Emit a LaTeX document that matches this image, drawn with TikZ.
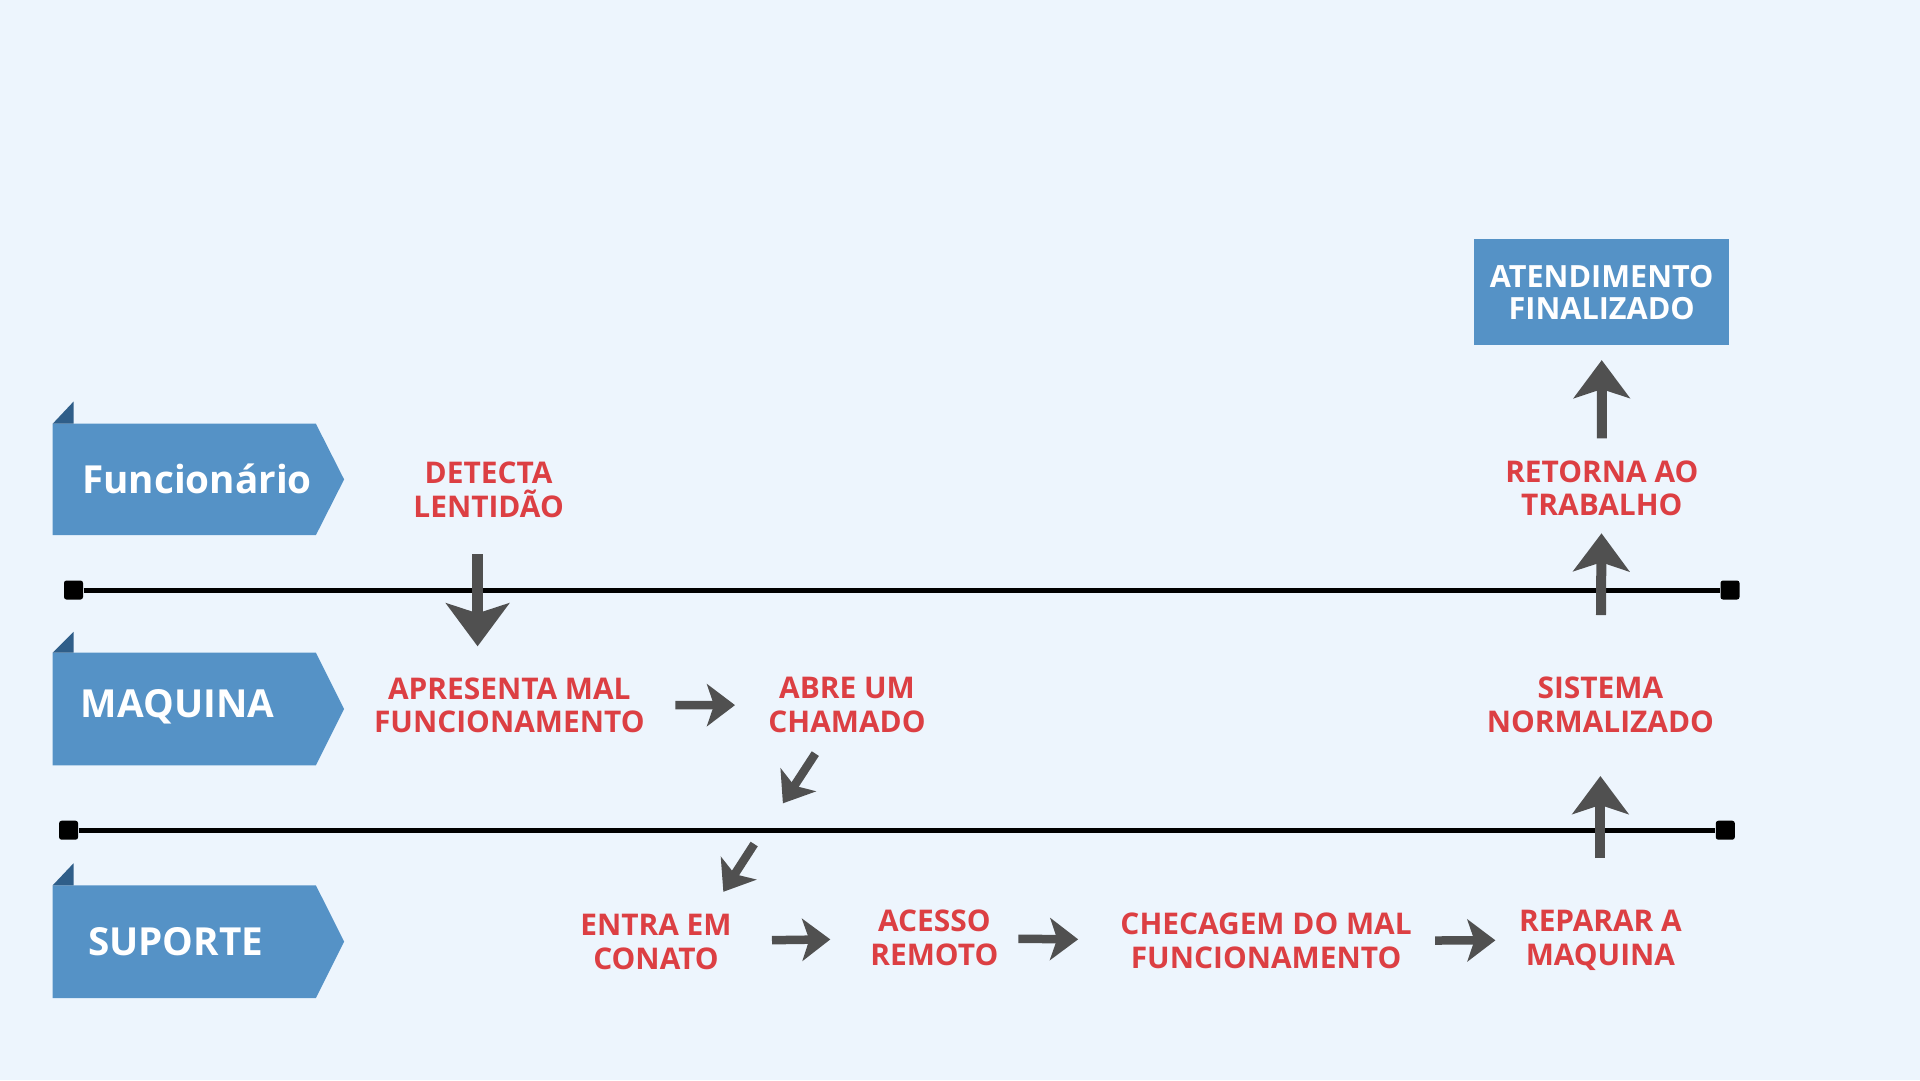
\documentclass[tikz,border=0pt]{standalone}
\usepackage{fontspec}
\setmainfont{Open Sans}
\usetikzlibrary{arrows.meta}

\definecolor{fundo}{HTML}{EDF5FD}
\definecolor{azul}{HTML}{5592C6}
\definecolor{azulesc}{HTML}{2F5E89}
\definecolor{vermelho}{HTML}{DC3F43}
\definecolor{cinza}{HTML}{505050}

\begin{document}
\begin{tikzpicture}[x=0.1mm,y=-0.1mm]
  \tikzset{
    etapa/.style={text=vermelho,font=\fontsize{8.5}{9.6}\selectfont\bfseries,align=center,inner sep=0pt},
    raia/.style={text=white,font=\fontsize{11}{12}\selectfont\bfseries,inner sep=0pt,anchor=base},
    caixa/.style={fill=azul,text=white,font=\fontsize{8.7}{9.1}\selectfont\bfseries,align=center,minimum width=25.5mm,minimum height=10.65mm,inner sep=0pt},
    marca/.style={fill=black,rounded corners=0.25mm,minimum size=1.9mm,inner sep=0pt},
    trilho/.style={line width=0.5mm},
    seta/.style={cinza,line width=0.85mm,-{Stealth[length=2.8mm,width=4.2mm,inset=0.7mm]}},
    setam/.style={seta,line width=1mm,-{Stealth[length=3.8mm,width=5.6mm,inset=0.9mm]}},
    setag/.style={seta,line width=1.15mm,-{Stealth[length=4.3mm,width=6.3mm,inset=1mm]}},
  }
  \useasboundingbox (0,0) rectangle (1920,1080);
  \fill[fundo] (0,0) rectangle (1920,1080);

  % raias
  \fill[azul] (52.7,423.7) -- (315.9,423.7) -- (344.1,479.4) -- (315.9,535.1) -- (52.7,535.1) -- cycle;
  \fill[azulesc] (52.7,423.7) -- (73.5,401.6) -- (73.5,423.7) -- cycle;
  \fill[azul] (52.7,652.7) -- (315.9,652.7) -- (344.1,709) -- (315.9,765.3) -- (52.7,765.3) -- cycle;
  \fill[azulesc] (52.7,652.7) -- (73.5,631.8) -- (73.5,652.7) -- cycle;
  \fill[azul] (52.7,885.3) -- (315.9,885.3) -- (344.1,941.6) -- (315.9,998) -- (52.7,998) -- cycle;
  \fill[azulesc] (52.7,885.3) -- (73.5,863.3) -- (73.5,885.3) -- cycle;
  \node[raia] (fun) at (197,493.3) {Funcionário};
  \node[raia] (maq) at (177.6,717.3) {MAQUINA};
  \node[raia] (sup) at (175.7,955) {SUPORTE};

  % divisorias
  \node[marca] (a1) at (73.5,590) {};
  \node[marca] (b1) at (1730,590) {};
  \node[marca] (a2) at (68.6,830.2) {};
  \node[marca] (b2) at (1725.3,830.2) {};
  \draw[trilho] (a1) -- (b1);
  \draw[trilho] (a2) -- (b2);

  % etapas
  \node[etapa] (det)  at (488.6,490)    {DETECTA\\LENTIDÃO};
  \node[etapa] (apr)  at (509.3,705.3)  {APRESENTA MAL\\FUNCIONAMENTO};
  \node[etapa] (abre) at (847,705)      {ABRE UM\\CHAMADO};
  \node[etapa] (sis)  at (1600.4,705)   {SISTEMA\\NORMALIZADO};
  \node[etapa] (ret)  at (1601.8,488.3) {RETORNA AO\\TRABALHO};
  \node[etapa] (ent)  at (656,941.7)    {ENTRA EM\\CONATO};
  \node[etapa] (ace)  at (934.3,938)    {ACESSO\\REMOTO};
  \node[etapa] (che)  at (1266.1,941)   {CHECAGEM DO MAL\\FUNCIONAMENTO};
  \node[etapa] (rep)  at (1600.4,940)   {REPARAR A\\MAQUINA};
  \node[caixa] (fim)  at (1601.7,292.1) {ATENDIMENTO\\FINALIZADO};
  \coordinate (q1) at (782.9,803.3);
  \coordinate (q2) at (754.2,844);

  % fluxo
  \draw[setag,shorten <=6.4mm,shorten >=5.9mm] ([xshift=-1.1mm]det.center) -- ([xshift=-1.1mm]det.center |- apr.center);
  \draw[seta,shorten <=16.6mm,shorten >=11.2mm] (apr.center) -- (abre.center);
  \draw[seta,shorten <=5.8mm] (abre.center) -- (q1);
  \draw[seta,shorten >=2.56mm] (q2) -- (ent.28);
  \draw[seta,shorten <=11.6mm,shorten >=10.4mm] (ent.center) -- (ace.center);
  \draw[seta,shorten <=8.4mm,shorten >=18.8mm] (ace.center) -- (che.center);
  \draw[seta,shorten <=16.9mm,shorten >=10.5mm] (che.center) -- (rep.center);
  \draw[setam,shorten <=8.2mm,shorten >=7.1mm] (rep.center) -- (sis.center);
  \draw[setam,shorten <=9mm,shorten >=4.5mm] (sis.center) -- (ret.center);
  \draw[setam,shorten <=5mm,shorten >=6.8mm] (ret.center) -- (fim.center);
\end{tikzpicture}
\end{document}
